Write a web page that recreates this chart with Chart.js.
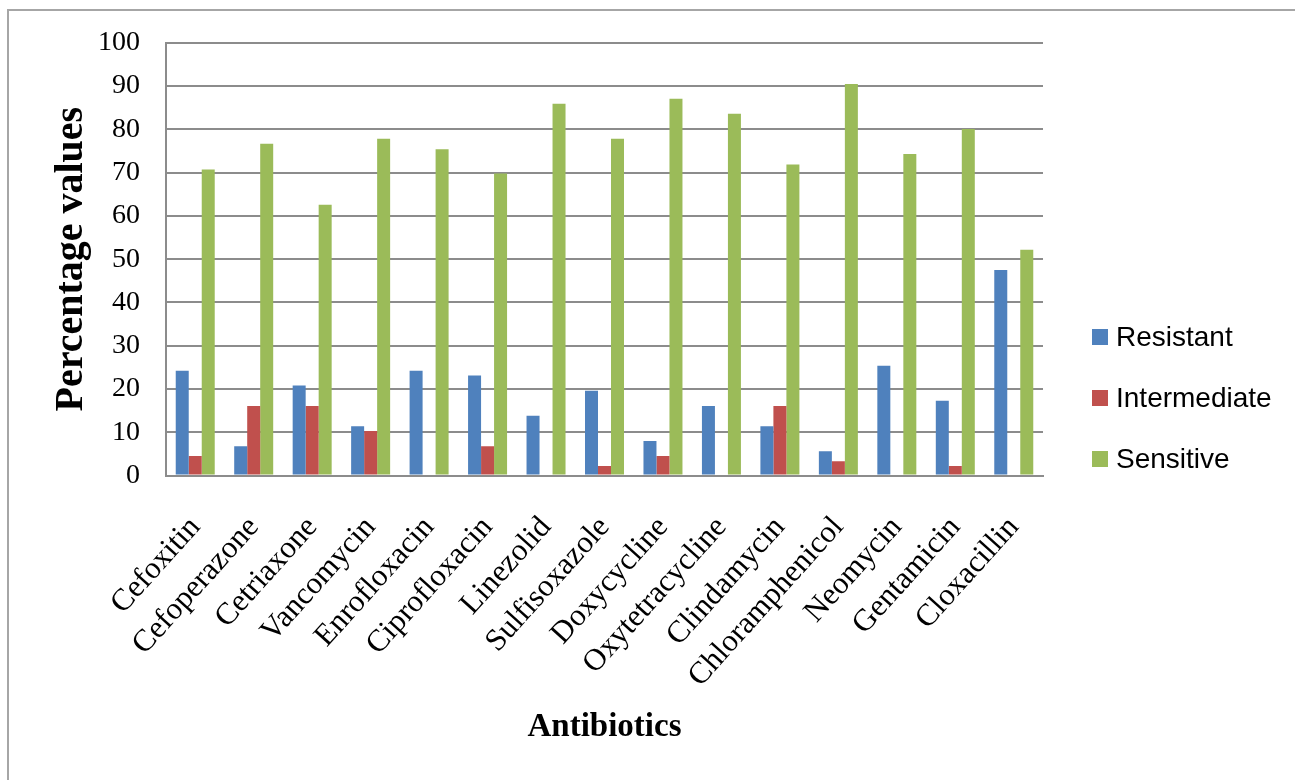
<!DOCTYPE html>
<html>
<head>
<meta charset="utf-8">
<title>Antibiotic susceptibility</title>
<script src="https://cdn.jsdelivr.net/npm/chart.js@4.4.1/dist/chart.umd.min.js"></script>
<style>
  html, body { margin: 0; padding: 0; background: #fff; }
  #wrap { position: relative; width: 1295px; height: 780px; overflow: hidden; }
  #frame { position: absolute; left: 7px; top: 9px; right: -5px; bottom: -5px;
           border-left: 2px solid #a6a6a6; border-top: 2px solid #a6a6a6; }
  #chart { position: absolute; left: 0; top: 0; }
</style>
</head>
<body>
<div id="wrap">
  <div id="frame"></div>
  <canvas id="chart" width="1295" height="780"></canvas>
</div>
<script>
// Data (percentages)
const antibiotics = [
  "Cefoxitin", "Cefoperazone", "Cetriaxone", "Vancomycin", "Enrofloxacin",
  "Ciprofloxacin", "Linezolid", "Sulfisoxazole", "Doxycycline", "Oxytetracycline",
  "Clindamycin", "Chloramphenicol", "Neomycin", "Gentamicin", "Cloxacillin"
];
const resistant    = [24.2, 6.8, 20.8, 11.4, 24.2, 23.1, 13.8, 19.6, 8.0, 16.1, 11.4, 5.6, 25.4, 17.3, 47.5];
const intermediate = [4.5, 16.1, 16.1, 10.3, 0, 6.8, 0, 2.2, 4.5, 0, 16.1, 3.3, 0, 2.2, 0];
const sensitive    = [70.7, 76.7, 62.6, 77.8, 75.4, 69.8, 85.9, 77.8, 87.1, 83.6, 71.9, 90.5, 74.3, 80.1, 52.2];

const seriesNames = ["Resistant", "Intermediate", "Sensitive"];
const seriesColors = ["#4F81BD", "#C0504D", "#9BBB59"];
const yMin = 0, yMax = 100, yStep = 10;

const serif = '"Liberation Serif", "Times New Roman", serif';
const sans = '"Liberation Sans", Arial, sans-serif';
const gridGray = "#8c8c8c";

// Legend drawn at the right, like the Excel original
const sideLegend = {
  id: "sideLegend",
  afterDraw(chart) {
    const ctx = chart.ctx;
    const x = chart.chartArea.right + 49;
    ctx.save();
    ctx.font = "28px " + sans;
    ctx.textBaseline = "middle";
    ctx.textAlign = "left";
    chart.data.datasets.forEach((ds, i) => {
      const y = 337 + i * 61;
      ctx.fillStyle = ds.backgroundColor;
      ctx.fillRect(x, y - 8, 16, 16);
      ctx.fillStyle = "#000";
      ctx.fillText(ds.label, x + 24, y + 1);
    });
    ctx.restore();
  }
};

const datasets = [resistant, intermediate, sensitive].map((values, i) => ({
  label: seriesNames[i],
  data: values,
  backgroundColor: seriesColors[i],
  borderWidth: 0,
  categoryPercentage: 0.667,
  barPercentage: 1.0
}));

new Chart(document.getElementById("chart"), {
  type: "bar",
  data: { labels: antibiotics, datasets: datasets },
  plugins: [sideLegend],
  options: {
    responsive: false,
    animation: false,
    devicePixelRatio: 1,
    layout: { padding: { left: 44, right: 252, top: 39, bottom: 29 } },
    plugins: {
      legend: { display: false },
      tooltip: { enabled: false }
    },
    scales: {
      x: {
        grid: { display: false },
        border: { display: true, color: gridGray, width: 2 },
        ticks: {
          autoSkip: false,
          minRotation: 48,
          maxRotation: 48,
          padding: 26,
          color: "#000",
          font: { family: serif, size: 31 }
        },
        title: {
          display: true,
          text: "Antibiotics",
          color: "#000",
          font: { family: serif, size: 33, weight: "bold" },
          padding: { top: -13, bottom: 4 }
        }
      },
      y: {
        min: yMin,
        max: yMax,
        afterFit(scale) { scale.width = 122; },
        grid: { color: gridGray, lineWidth: 2, drawTicks: false },
        border: { display: true, color: gridGray, width: 2 },
        ticks: {
          stepSize: yStep,
          padding: 26,
          color: "#000",
          font: { family: serif, size: 28 }
        },
        title: {
          display: true,
          text: "Percentage values",
          color: "#000",
          font: { family: serif, size: 40, weight: "bold" },
          padding: { top: 4, bottom: 4 }
        }
      }
    }
  }
});
</script>
</body>
</html>
